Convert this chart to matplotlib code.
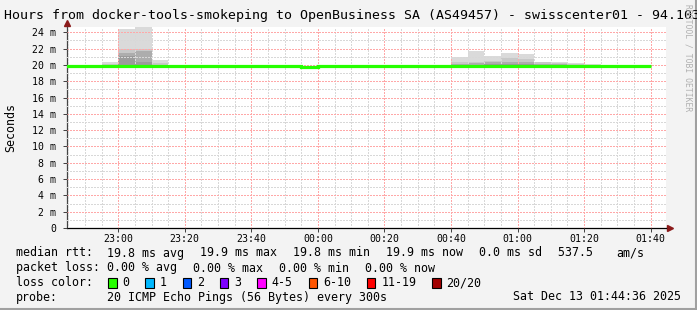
import matplotlib
matplotlib.use("Agg")
import matplotlib.pyplot as plt
from matplotlib.patches import Rectangle
from matplotlib.lines import Line2D

MONO = "DejaVu Sans Mono"
W, H = 697, 310

# 5 minute bins, start minute relative to 23:00
bin_start = [-20, -15, -10, -5, 0, 5, 10, 15, 20, 25, 30, 35, 40, 45, 50, 55, 60, 65,
             70, 75, 80, 85, 90, 95, 100, 105, 110, 115, 120, 125, 130, 135, 140, 145, 150, 155]
bin_end = 160

# median rtt per bin (ms)
median_ms = [19.85, 19.85, 19.85, 19.85, 19.88, 19.88, 19.85, 19.85, 19.85, 19.85, 19.92, 19.92,
             19.92, 19.92, 19.88, 19.80, 19.88, 19.88, 19.88, 19.85, 19.85, 19.82, 19.85, 19.85,
             19.88, 19.88, 19.92, 19.92, 19.92, 19.85, 19.85, 19.85, 19.85, 19.85, 19.88, 19.85]

# smoke layers, outermost (max ping) to innermost (ms)
smoke_1 = [19.95, 19.95, 19.95, 20.30, 24.40, 24.60, 20.60, 19.95, 19.95, 19.95, 20.02, 20.02,
           20.02, 20.02, 20.00, 19.90, 20.00, 20.00, 20.00, 19.95, 19.95, 19.90, 19.95, 19.95,
           21.00, 21.70, 21.10, 21.45, 21.35, 20.40, 20.35, 20.25, 20.10, 19.95, 20.00, 19.95]
smoke_2 = [19.95, 19.95, 19.95, 20.10, 21.90, 21.90, 20.20, 19.95, 19.95, 19.95, 20.02, 20.02,
           20.02, 20.02, 20.00, 19.90, 20.00, 20.00, 20.00, 19.95, 19.95, 19.90, 19.95, 19.95,
           20.30, 20.40, 20.50, 20.90, 20.75, 20.30, 20.25, 20.10, 20.00, 19.95, 20.00, 19.95]
smoke_3 = [19.95, 19.95, 19.95, 20.00, 21.50, 21.70, 20.00, 19.95, 19.95, 19.95, 20.02, 20.02,
           20.02, 20.02, 20.00, 19.90, 20.00, 20.00, 20.00, 19.95, 19.95, 19.90, 19.95, 19.95,
           20.10, 20.20, 20.30, 20.40, 20.30, 20.10, 20.10, 20.00, 19.95, 19.95, 20.00, 19.95]
smoke_4 = [19.95, 19.95, 19.95, 19.95, 21.10, 20.30, 19.95, 19.95, 19.95, 19.95, 20.02, 20.02,
           20.02, 20.02, 20.00, 19.90, 20.00, 20.00, 20.00, 19.95, 19.95, 19.90, 19.95, 19.95,
           20.00, 20.00, 20.10, 20.10, 20.10, 20.00, 20.00, 19.95, 19.90, 19.95, 20.00, 19.95]

x_ticks = [0, 20, 40, 60, 80, 100, 120, 140, 160]
x_labels = ["23:00", "23:20", "23:40", "00:00", "00:20", "00:40", "01:00", "01:20", "01:40"]
y_ticks = [0, 2, 4, 6, 8, 10, 12, 14, 16, 18, 20, 22, 24]
y_labels = ["0", "2 m", "4 m", "6 m", "8 m", "10 m", "12 m", "14 m", "16 m", "18 m",
            "20 m", "22 m", "24 m"]

loss_labels = ["0", "1", "2", "3", "4-5", "6-10", "11-19", "20/20"]
loss_colors = ["#26ff00", "#00b8ff", "#0059ff", "#7e00ff", "#ff00ff", "#ff5500", "#ff0000", "#a10000"]

title = "Hours from docker-tools-smokeping to OpenBusiness SA (AS49457) - swisscenter01 - 94.103"
rtt_items = ["19.8 ms avg", "19.9 ms max", "19.8 ms min", "19.9 ms now", "0.0 ms sd", "537.5 ", "am/s"]
loss_items = ["0.00 % avg", "0.00 % max", "0.00 % min", "0.00 % now"]
probe_text = "20 ICMP Echo Pings (56 Bytes) every 300s"
stamp = "Sat Dec 13 01:44:36 2025"

# x range is 3 hours ending at the stamp time
x_min, x_max = -15.4, 164.6
y_max = 24.65


def fx(px):
    return px / W


def fy(py):
    return 1 - py / H


fig = plt.figure(figsize=(W / 100, H / 100), dpi=100, facecolor="#f3f3f3")
ax = fig.add_axes([fx(67), fy(228), fx(666 - 67), (228 - 27) / H])
ax.set_facecolor("white")

edges = bin_start + [bin_end]
shades = ["#dadada", "#c8c8c8", "#adadad", "#9b9b9b"]
for layer, col in zip([smoke_1, smoke_2, smoke_3, smoke_4], shades):
    ax.stairs(layer, edges, baseline=median_ms, fill=True, color=col, lw=0, zorder=1)
ax.stairs(median_ms, edges, baseline=None, color="#26ff00", lw=2.3, zorder=4)

ax.set_xlim(x_min, x_max)
ax.set_ylim(0, y_max)
ax.set_xticks(x_ticks)
ax.set_xticklabels(x_labels)
ax.set_xticks([m for m in bin_start if m > x_min] + [bin_end], minor=True)
ax.set_yticks(y_ticks)
ax.set_yticklabels(y_labels)
ax.set_yticks([1, 3, 5, 7, 9, 11, 13, 15, 17, 19, 21, 23], minor=True)

dots = (0, (1, 1))
ax.grid(which="minor", color="#d8d8d8", linestyle=dots, lw=0.8, antialiased=False)
ax.grid(which="major", color="#ffa8a8", linestyle=dots, lw=0.8, antialiased=False)
ax.set_axisbelow(False)

for lab in ax.get_xticklabels() + ax.get_yticklabels():
    lab.set_fontfamily(MONO)
    lab.set_fontsize(7.1)
ax.tick_params(which="major", length=3, width=0.72, color="#444444")
ax.tick_params(axis="x", pad=1.5)
ax.tick_params(axis="y", pad=5)
ax.tick_params(which="minor", length=0)

for s in ["top", "right"]:
    ax.spines[s].set_visible(False)
ax.spines["left"].set_color("#444444")
ax.spines["left"].set_linewidth(0.9)
ax.spines["bottom"].set_color("black")
ax.spines["bottom"].set_linewidth(0.9)

# axis arrows
ax.plot([0], [1 + 4 / 201], marker="^", ms=5, color="#8b1a1a", transform=ax.transAxes, clip_on=False)
ax.plot([1 + 4 / 599], [0], marker=">", ms=5, color="#8b1a1a", transform=ax.transAxes, clip_on=False)

fig.text(fx(11), fy(127), "Seconds", family=MONO, fontsize=8.4, rotation=90, va="center", ha="center")
fig.text(fx(4), fy(16), title, family=MONO, fontsize=9.5, va="center", ha="left")
fig.text(fx(688), fy(4), "RRDTOOL / TOBI OETIKER", family=MONO, fontsize=5.8, color="#b0b0b0",
         rotation=270, ha="center", va="top")

# legend, items laid out like rrdtool: text width plus a fixed gap
ADV, GAP = 7.0, 16
row_y = [253, 268, 283, 297]
fig.text(fx(16), fy(row_y[0]), "median rtt:", family=MONO, fontsize=8.4, va="center")
fig.text(fx(16), fy(row_y[1]), "packet loss:", family=MONO, fontsize=8.4, va="center")
fig.text(fx(16), fy(row_y[2]), "loss color:", family=MONO, fontsize=8.4, va="center")
fig.text(fx(16), fy(row_y[3]), "probe:", family=MONO, fontsize=8.4, va="center")

for items, yy in [(rtt_items, row_y[0]), (loss_items, row_y[1])]:
    xx = 107
    for it in items:
        fig.text(fx(xx), fy(yy), it, family=MONO, fontsize=8.4, va="center")
        xx += ADV * len(it) + GAP

fig.text(fx(107), fy(row_y[3]), probe_text, family=MONO, fontsize=8.4, va="center")
fig.text(fx(681), fy(row_y[3]), stamp, family=MONO, fontsize=8.4, va="center", ha="right")

# loss color boxes
bx = 108
for lab, col in zip(loss_labels, loss_colors):
    fig.add_artist(Rectangle((fx(bx), fy(row_y[2] + 5)), fx(8.5), 10 / H, facecolor=col,
                             edgecolor="black", lw=0.8, transform=fig.transFigure))
    fig.text(fx(bx + 14.5), fy(row_y[2]), lab, family=MONO, fontsize=8.4, va="center", ha="left")
    bx += 15.5 + ADV * len(lab) + 14.8

# frame shading
fig.add_artist(Line2D([fx(696), fx(696)], [0, 1], color="#a0a0a0", lw=1.5, transform=fig.transFigure))
fig.add_artist(Line2D([0, 1], [fy(309), fy(309)], color="#a0a0a0", lw=1.5, transform=fig.transFigure))

fig.savefig("out.png", dpi=100, facecolor=fig.get_facecolor())
